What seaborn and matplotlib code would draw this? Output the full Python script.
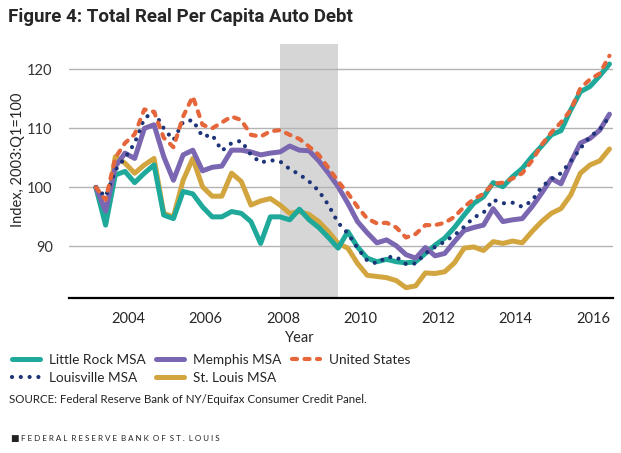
import numpy as np
import pandas as pd
import matplotlib
matplotlib.use("Agg")
import matplotlib.pyplot as plt
import seaborn as sns

# quarterly, 2003:Q1 .. 2016:Q2
quarters = pd.period_range("2003Q1", "2016Q2", freq="Q")

little_rock = [100, 93.6, 102.1, 102.7, 100.8, 102.4, 103.8, 95.3, 94.7, 99.3,
               98.9, 96.7, 95.0, 95.0, 95.9, 95.6, 94.2, 90.5, 95.0, 95.0,
               94.5, 96.3, 94.5, 93.2, 91.5, 89.7, 92.5, 89.9, 88.0, 87.4,
               87.8, 87.4, 87.2, 87.4, 88.8, 90.2, 91.4, 93.2, 95.3, 97.3,
               98.4, 100.8, 100.1, 101.8, 103.2, 105.2, 107.0, 108.9, 109.6, 113.1,
               116.2, 117.1, 118.9, 120.9]
memphis = [100, 96.0, 103.5, 105.8, 104.9, 110.0, 110.6, 105.2, 101.2, 105.5,
           106.3, 102.8, 103.4, 103.6, 106.3, 106.3, 106.0, 105.5, 105.8, 106.0,
           107.0, 106.3, 106.2, 104.5, 102.4, 100.1, 97.3, 94.2, 92.3, 90.6,
           91.1, 90.1, 88.6, 88.0, 89.8, 88.4, 88.8, 90.8, 92.7, 93.2,
           93.6, 96.4, 94.2, 94.5, 94.7, 96.7, 99.0, 101.5, 100.6, 104.2,
           107.5, 108.3, 109.7, 112.4]
united_states = [100, 97.9, 105.0, 107.5, 109.0, 113.2, 112.8, 108.4, 106.8, 112.0,
                 115.4, 110.6, 110.0, 111.0, 112.0, 111.4, 108.9, 108.6, 109.5, 109.7,
                 108.9, 108.2, 106.9, 105.5, 103.3, 101.0, 99.0, 96.7, 94.7, 93.9,
                 94.0, 93.2, 91.5, 92.1, 93.6, 93.6, 94.0, 95.0, 96.7, 98.0,
                 98.9, 100.6, 100.8, 101.5, 102.4, 104.5, 107.2, 109.3, 111.0, 113.1,
                 116.8, 118.3, 119.3, 122.3]
louisville = [100, 98.4, 102.9, 105.0, 107.5, 111.7, 112.8, 110.0, 108.0, 111.1,
              111.4, 108.6, 108.9, 106.2, 107.5, 107.9, 105.5, 104.2, 104.6, 104.4,
              103.1, 102.2, 101.0, 99.4, 97.0, 94.0, 92.2, 89.7, 87.6, 87.1,
              88.2, 88.2, 87.0, 87.1, 88.8, 89.9, 90.8, 91.9, 93.3, 94.9,
              95.7, 97.9, 97.3, 97.4, 96.7, 97.7, 100.1, 101.4, 102.4, 104.4,
              106.6, 108.6, 109.8, 112.0]
st_louis = [100, 94.2, 105.2, 104.1, 102.4, 103.8, 104.9, 95.6, 95.0, 101.2,
            104.9, 100.1, 98.5, 98.5, 102.4, 101.0, 97.0, 97.7, 98.1, 97.0,
            95.6, 95.9, 95.4, 94.2, 92.5, 90.5, 89.7, 87.1, 85.1, 84.9,
            84.7, 84.2, 83.0, 83.3, 85.5, 85.4, 85.7, 87.2, 89.7, 89.9,
            89.3, 90.8, 90.5, 90.9, 90.6, 92.5, 94.2, 95.6, 96.4, 98.7,
            102.4, 103.8, 104.5, 106.5]

recession = (2007.92, 2009.42)

# x position in decimal years (second month of quarter)
x = quarters.year + (quarters.quarter - 1) / 4 + 1 / 6

series = {
    "Little Rock MSA": (little_rock, "#1ea99a", "-"),
    "Louisville MSA": (louisville, "#1d3478", (0, (0.01, 2.1))),
    "Memphis MSA": (memphis, "#7b67b1", "-"),
    "St. Louis MSA": (st_louis, "#d2a53f", "-"),
    "United States": (united_states, "#e5663a", (0, (1.2, 1.8))),
}
draw_order = ["St. Louis MSA", "Little Rock MSA", "Memphis MSA", "Louisville MSA", "United States"]

sns.set_style("white")
plt.rcParams["font.family"] = ["Lato", "DejaVu Sans"]

fig = plt.figure(figsize=(6.21, 4.53), dpi=100)
ax = fig.add_axes([0.1116, 0.3415, 0.875, 0.5615])

ax.axvspan(*recession, color="#d6d6d6", lw=0, zorder=0)

handles = {}
for name in draw_order:
    vals, col, ls = series[name]
    df = pd.DataFrame({"year": x, "value": vals})
    sns.lineplot(data=df, x="year", y="value", ax=ax, color=col, lw=3.6 if ls == "-" else 3.0,
                 linestyle=ls, label=name, zorder=3)
    ln = ax.lines[-1]
    if ls != "-":
        ln.set_dash_capstyle("round")
    handles[name] = ln

ax.set_xlim(2002.48, 2016.5)
ax.set_ylim(81.2, 124.3)
ax.set_xticks([2004, 2006, 2008, 2010, 2012, 2014, 2016])
ax.set_yticks([90, 100, 110, 120])
ax.yaxis.grid(True, color="#b3b3b3", lw=1)
ax.set_axisbelow(True)
for s in ["left", "right", "top"]:
    ax.spines[s].set_visible(False)
ax.spines["bottom"].set_color("black")
ax.spines["bottom"].set_linewidth(1.6)
ax.tick_params(axis="x", direction="out", length=5, width=1, color="black", labelsize=10.5, pad=5)
ax.tick_params(axis="y", length=0, labelsize=10.5, pad=12, labelcolor="#333333")
ax.set_xlabel("")
ax.set_ylabel("")
ax.legend_.remove()

fig.text(0.029, 0.647, "Index, 2003:Q1=100", rotation=90, ha="center", va="center", fontsize=10.5)
fig.text(0.482, 0.254, "Year", ha="center", va="center", fontsize=10.5)

# legend: three columns placed separately
columns = [["Little Rock MSA", "Louisville MSA"], ["Memphis MSA", "St. Louis MSA"], ["United States"]]
col_x = [12, 156, 292]
for names, cx in zip(columns, col_x):
    fig.legend([handles[n] for n in names], names, loc="upper left",
               bbox_to_anchor=(cx / 621, 1 - 354 / 453), frameon=False, fontsize=9.8,
               handlelength=2.05, labelspacing=0.45, handletextpad=0.65,
               borderaxespad=0, borderpad=0)

fig.text(0.014, 0.117, "SOURCE: Federal Reserve Bank of NY/Equifax Consumer Credit Panel.",
         fontsize=8.3, va="center", color="#222222")
fig.text(0.016, 0.033, "\u25A0", fontsize=6.5, va="center", color="#222222")
fig.text(0.034, 0.033, "F E D E R A L  R E S E R V E  B A N K  O F  S T .  L O U I S",
         fontsize=5.8, va="center", color="#222222")
fig.text(0.013, 0.963, "Figure 4: Total Real Per Capita Auto Debt", fontsize=13.5,
         fontweight="bold", va="center", family=["Roboto", "DejaVu Sans"])

fig.savefig("out.png", dpi=100)
